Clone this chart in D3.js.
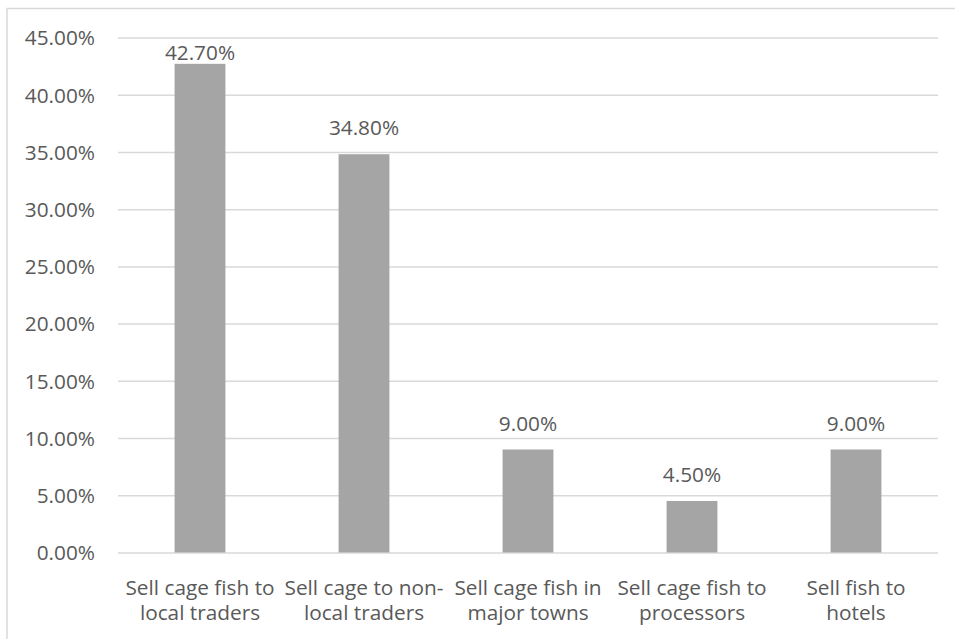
<!DOCTYPE html>
<html><head><meta charset="utf-8">
<script src="https://cdn.jsdelivr.net/npm/d3@7"></script>
<style>body{margin:0;background:#fff}svg{display:block}</style>
</head><body>
<svg id="c" width="955" height="639"></svg>
<script>
const categories = [
  ["Sell cage fish to","local traders"],
  ["Sell cage to non-","local traders"],
  ["Sell cage fish in","major towns"],
  ["Sell cage fish to","processors"],
  ["Sell fish to","hotels"]
];
const values = [42.7, 34.8, 9.0, 4.5, 9.0];
const yTicks = [0,5,10,15,20,25,30,35,40,45];

(function(){
const svg = d3.select("#c");
const font = "'Open Sans', sans-serif";
const fs = "20.8px";
const textCol = "#595959";

svg.append("path").attr("d","M7,639 V8.5 H955").attr("fill","none").attr("stroke","#d9d9d9").attr("stroke-width",1.5);

const mLeft = 118, mRight = 938, mTop = 37.5, mBottom = 552.5;
const x = d3.scaleBand().domain(d3.range(categories.length)).range([mLeft,mRight]).paddingInner(0.69).paddingOuter(0.345);
const y = d3.scaleLinear().domain([0,45]).range([mBottom, mTop]);

const yAxis = d3.axisLeft(y).tickValues(yTicks).tickSize(-(mRight-mLeft)).tickFormat(d=>d3.format(".2f")(d)+"%");
const ga = svg.append("g").attr("transform",`translate(${mLeft},0)`).call(yAxis);
ga.select(".domain").remove();
ga.selectAll(".tick line").attr("stroke","#d9d9d9").attr("stroke-width",1.5);
ga.selectAll(".tick text").attr("x",-23).attr("dy","0.35em").attr("fill",textCol).style("font-family",font).style("font-size",fs);

svg.append("g").selectAll("rect").data(values).join("rect")
  .attr("x",(d,i)=>x(i)).attr("width",x.bandwidth())
  .attr("y",d=>y(d)).attr("height",d=>y(0)-y(d)).attr("fill","#a5a5a5");

svg.append("g").selectAll("text").data(values).join("text")
  .attr("x",(d,i)=>x(i)+x.bandwidth()/2).attr("y",d=>Math.max(y(d)-19, 60))
  .attr("text-anchor","middle").attr("fill",textCol)
  .style("font-family",font).style("font-size",fs)
  .text(d=>d3.format(".2f")(d)+"%");

const gx = svg.append("g");
categories.forEach((lines,i)=>{
  const t = gx.append("text").attr("text-anchor","middle").attr("fill",textCol)
    .style("font-family",font).style("font-size",fs);
  lines.forEach((l,j)=>t.append("tspan").attr("x",x(i)+x.bandwidth()/2).attr("y",595+j*25).text(l));
});
})();
</script>
</body></html>
